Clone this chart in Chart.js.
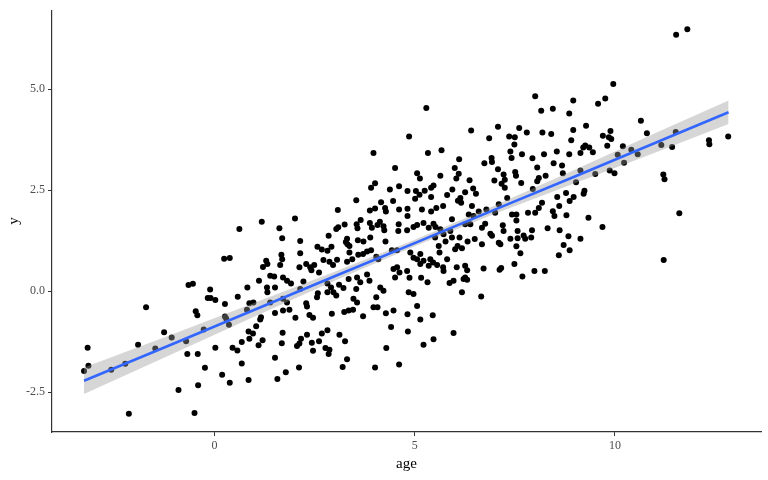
<!DOCTYPE html>
<html>
<head>
<meta charset="utf-8">
<title>age vs y</title>
<script src="https://cdn.jsdelivr.net/npm/chart.js@4.4.1/dist/chart.umd.min.js"></script>
<style>
  html, body { margin: 0; padding: 0; background: #fff; }
  #chart { display: block; }
</style>
</head>
<body>
<canvas id="chart" width="768" height="480"></canvas>
<script>
// Scatter values (x = age, y = y), same order in both arrays
const ageValues = [
  -3.17,-3.15,-3.26,-2.58,-2.23,-1.91,-1.71,-1.48,-1.26,-1.07,
  -0.90,-2.14,-0.71,-0.68,-0.65,-0.54,-0.47,-0.43,-0.50,-0.42,
  -0.41,-0.24,-0.27,0.02,-0.11,-0.17,-0.10,0.02,0.24,0.38,
  0.62,0.26,0.26,0.29,0.36,0.58,0.45,0.57,0.19,0.38,
  3.97,4.51,5.06,1.18,2.01,1.62,1.69,2.14,3.08,3.54,
  3.91,4.01,4.38,4.61,4.82,5.03,5.01,5.12,4.46,4.16,
  3.88,4.01,4.26,4.28,4.61,4.82,4.82,3.55,3.65,3.88,
  3.93,4.07,4.13,4.22,4.24,4.60,4.59,4.81,4.97,5.06,
  3.25,3.09,3.04,3.57,2.85,3.31,3.28,3.58,3.72,3.89,
  4.27,2.57,2.68,2.82,2.92,3.32,3.37,2.14,1.67,1.69,
  1.29,1.32,1.21,1.64,2.12,2.29,2.39,2.49,2.42,2.61,
  2.72,2.87,3.06,2.96,3.37,3.31,3.44,3.59,3.71,3.81,
  3.91,4.04,4.09,4.43,4.56,4.89,4.97,5.06,5.14,4.47,
  4.56,4.62,4.51,4.81,4.87,5.14,1.39,1.49,1.71,1.81,
  1.91,1.11,2.22,0.82,1.31,1.51,2.82,2.91,3.11,3.22,
  3.35,3.56,3.64,3.81,3.87,4.14,4.86,5.13,2.14,3.54,
  1.32,2.58,2.56,2.82,2.97,3.04,3.47,3.56,4.22,4.85,
  4.97,4.04,3.97,4.07,5.06,5.14,3.24,3.35,3.46,3.71,
  2.93,0.87,0.97,0.81,1.16,1.14,1.39,1.71,1.81,1.51,
  1.71,1.87,2.29,2.31,2.37,2.46,2.02,1.04,0.85,0.96,
  0.87,0.68,1.20,1.10,1.70,1.68,2.31,2.16,2.12,2.06,
  2.43,2.46,2.61,2.68,2.82,2.77,2.87,2.85,3.12,3.26,
  3.31,3.20,1.51,0.68,1.78,1.57,2.11,0.85,4.28,4.47,
  4.82,4.41,4.83,4.29,4.01,4.61,
  5.29,8.01,8.96,8.16,8.45,8.86,6.41,7.08,7.61,7.80,
  7.36,7.50,6.86,8.19,8.41,8.96,8.91,7.49,7.39,7.42,
  7.68,5.33,5.67,6.11,6.74,6.92,6.93,7.94,8.23,8.55,
  8.86,8.47,8.68,8.06,8.27,8.10,8.06,7.08,7.22,7.25,
  7.51,7.53,6.99,7.17,7.66,7.25,7.95,6.00,6.10,6.04,
  6.37,5.64,5.47,5.41,5.25,5.94,6.26,6.46,6.53,5.81,
  5.41,7.31,8.56,8.78,8.97,9.03,8.70,
  6.14,6.16,6.08,5.71,5.54,5.41,5.18,6.43,6.60,6.35,
  6.47,7.10,7.01,6.76,6.68,6.39,6.26,5.93,7.43,7.54,
  7.54,7.83,8.01,8.18,8.10,8.45,8.49,8.61,8.79,8.87,
  8.32,8.62,8.84,9.14,8.72,8.87,8.60,8.25,7.99,7.69,
  7.49,7.64,7.54,7.39,7.57,7.72,7.76,7.91,7.93,7.57,
  7.20,7.22,6.89,6.93,7.10,7.14,6.68,6.50,6.32,6.12,
  6.07,6.18,6.01,5.93,5.77,5.89,5.72,5.64,5.51,5.60,
  5.62,5.35,5.22,5.47,5.52,5.22,5.39,5.46,5.35,5.56,
  5.71,5.72,5.81,6.05,6.26,6.31,6.22,6.31,6.26,6.72,
  7.12,7.16,5.97,5.87,6.18,6.66,5.16,5.32,5.45,5.97,
  5.47,5.22,6.79,
  11.53,11.81,9.96,9.58,9.76,9.28,10.65,10.80,9.70,9.89,
  9.85,9.91,9.81,10.20,9.26,9.21,9.36,9.14,9.45,10.07,
  10.41,10.57,11.16,11.43,11.52,12.35,12.36,12.83,10.23,9.14,
  9.51,9.87,9.99,11.21,11.24,9.24,9.22,11.61,9.34,9.69,
  11.22
];

const yValues = [
  -1.40,-1.85,-1.98,-1.95,-1.80,-1.33,-0.40,-1.42,-1.02,-1.15,
  -2.45,-3.04,-1.24,-1.56,0.15,0.18,-0.50,-0.60,-3.02,-1.56,
  -2.33,-1.90,-0.95,-1.40,0.04,-0.17,-0.17,-0.22,0.80,0.82,
  1.54,-0.32,-0.63,-0.68,-0.83,-0.14,-1.40,-1.47,-2.07,-2.27,
  3.42,3.05,2.92,1.72,1.80,1.56,1.31,1.24,2.01,2.25,
  2.56,2.67,2.52,2.60,2.48,2.48,2.29,2.39,2.23,2.20,
  2.00,2.05,2.06,1.97,2.02,2.04,1.86,1.66,1.76,1.69,
  1.57,1.64,1.72,1.61,1.51,1.66,1.49,1.51,1.59,1.64,
  1.65,1.58,1.54,1.56,1.37,1.30,1.22,1.26,1.23,1.33,
  1.23,1.10,1.03,1.00,1.10,1.16,1.12,0.94,0.90,0.79,
  0.75,0.67,0.60,0.65,0.59,0.67,0.59,0.65,0.52,0.46,
  0.77,0.73,0.78,0.65,0.96,0.73,0.79,0.90,0.92,0.98,
  1.01,0.85,0.79,1.01,1.01,0.96,0.83,0.79,0.92,0.55,
  0.59,0.46,0.34,0.50,0.33,0.67,0.38,0.36,0.34,0.26,
  0.19,0.26,0.24,0.09,0.09,0.09,0.19,0.09,0.16,0.08,
  0.30,0.34,0.22,0.41,0.26,0.09,3.83,2.79,0.05,0.05,
  -0.03,-0.05,-0.15,-0.03,-0.03,-0.11,-0.19,-0.28,0.01,-0.03,
  -0.07,-0.15,-0.40,-0.40,-0.37,-0.70,-0.52,-0.48,-0.46,-0.62,
  -0.56,-0.30,-0.28,-0.46,-0.65,-0.70,-0.28,-0.19,-0.28,-0.54,
  -0.48,-0.46,-0.30,-0.38,-0.59,-0.66,-0.66,-0.87,-1.00,-1.05,
  -1.18,-1.26,-1.22,-1.34,-1.03,-1.29,-1.08,-1.18,-1.30,-1.36,
  -1.28,-1.48,-1.24,-1.05,-0.97,-1.41,-1.45,-1.56,-1.08,-1.24,
  -1.69,-1.88,-1.65,-1.79,-2.01,-2.18,-1.89,-2.20,-0.55,-0.48,
  -0.57,-0.89,-1.00,-1.41,-1.89,-1.82,
  4.54,4.83,4.72,4.47,4.52,4.40,3.98,4.07,4.04,3.93,
  3.83,3.81,3.79,3.93,3.89,3.99,3.74,3.63,3.46,3.30,
  3.39,3.42,3.49,3.27,3.17,3.30,3.20,3.29,3.39,3.46,
  3.39,3.17,3.11,3.06,2.86,2.80,2.72,3.02,2.89,2.76,
  2.95,2.86,2.74,2.66,2.68,2.56,2.53,3.05,2.91,2.79,
  2.75,2.86,2.62,2.56,2.49,2.52,2.45,2.54,2.41,2.38,
  2.33,2.31,2.33,2.43,2.33,2.70,2.92,
  2.31,2.19,2.24,2.11,2.06,1.97,2.02,2.11,1.97,1.90,
  1.86,2.15,1.94,1.67,1.57,1.66,1.66,1.78,1.90,1.90,
  1.75,1.94,1.94,2.19,2.06,1.98,1.86,2.11,1.88,2.23,
  1.56,1.51,1.36,1.30,1.14,1.01,0.89,0.50,0.50,0.36,
  0.67,0.94,1.11,1.30,1.31,1.38,1.30,1.33,1.51,1.49,
  1.63,1.49,1.42,1.37,1.20,1.16,1.16,1.29,1.23,1.33,
  1.12,1.06,1.04,1.33,1.23,1.49,1.41,1.53,1.33,1.12,
  0.96,1.57,1.69,1.67,1.59,0.75,0.79,0.71,0.63,0.65,
  0.59,0.50,0.79,0.59,0.63,0.52,0.30,0.28,0.34,0.56,
  0.53,0.57,0.26,0.20,-0.03,-0.13,0.33,0.22,-0.60,-1.04,
  -1.19,-1.33,2.02,
  6.35,6.49,5.13,4.64,4.77,4.10,4.22,3.91,3.85,3.97,
  3.81,3.77,3.60,3.59,3.61,3.56,3.56,3.42,3.44,3.38,
  3.50,3.39,3.62,3.57,3.94,3.74,3.64,3.83,3.18,2.99,
  2.90,2.99,2.92,2.89,2.77,2.49,2.41,1.93,1.82,1.59,
  0.77
];

// Linear fit and its confidence band
const fitAge   = [-3.26, -1, 1, 3, 5, 7, 9, 11, 12.84];
const fitY     = [-2.22, -1.29, -0.46, 0.37, 1.19, 2.02, 2.84, 3.67, 4.43];
const bandHigh = [-1.89, -1.05, -0.29, 0.48, 1.27, 2.12, 3.01, 3.91, 4.72];
const bandLow  = [-2.55, -1.53, -0.63, 0.26, 1.11, 1.92, 2.67, 3.43, 4.14];

// Axis ticks and limits
const xTicks = [0, 5, 10];
const yTicks = [-2.5, 0, 2.5, 5];
const xRange = [-4.06, 13.65];
const yRange = [-3.49, 6.96];

if (ageValues.length !== yValues.length) {
    console.warn('length mismatch', ageValues.length, yValues.length);
}

const toXY = (xs, ys) => xs.map((x, i) => ({ x: x, y: ys[i] }));

const FONT = "'Liberation Serif', 'DejaVu Serif', serif";
const AXIS = '#333333';

const ctx = document.getElementById('chart').getContext('2d');
new Chart(ctx, {
    type: 'scatter',
    data: {
        datasets: [
            {
                type: 'line',
                label: 'fit',
                data: toXY(fitAge, fitY),
                borderColor: '#3366FF',
                borderWidth: 2.6,
                pointRadius: 0,
                fill: false,
                order: 0
            },
            {
                type: 'line',
                label: 'upper',
                data: toXY(fitAge, bandHigh),
                borderWidth: 0,
                borderColor: 'rgba(0,0,0,0)',
                backgroundColor: 'rgba(153,153,153,0.4)',
                pointRadius: 0,
                fill: '+1',
                order: 1
            },
            {
                type: 'line',
                label: 'lower',
                data: toXY(fitAge, bandLow),
                borderWidth: 0,
                borderColor: 'rgba(0,0,0,0)',
                pointRadius: 0,
                fill: false,
                order: 2
            },
            {
                label: 'points',
                data: toXY(ageValues, yValues),
                backgroundColor: '#000000',
                borderWidth: 0,
                pointRadius: 3,
                order: 3
            }
        ]
    },
    options: {
        responsive: false,
        animation: false,
        devicePixelRatio: 1,
        layout: { padding: { top: 7, right: 7, left: 0, bottom: 0 } },
        plugins: {
            legend: { display: false },
            tooltip: { enabled: false }
        },
        scales: {
            x: {
                type: 'linear',
                min: xRange[0],
                max: xRange[1],
                afterBuildTicks: (scale) => { scale.ticks = xTicks.map(v => ({ value: v })); },
                afterFit: (scale) => { scale.height = 48; },
                ticks: {
                    font: { family: FONT, size: 12 },
                    color: '#4d4d4d',
                    padding: 3,
                    callback: (v) => String(v)
                },
                grid: { drawOnChartArea: false, drawTicks: true, tickLength: 4, color: AXIS, lineWidth: 1 },
                border: { display: true, color: AXIS, width: 1.2 },
                title: {
                    display: true,
                    text: 'age',
                    font: { family: FONT, size: 15 },
                    color: '#000000',
                    padding: { top: 0, bottom: 7 }
                }
            },
            y: {
                type: 'linear',
                min: yRange[0],
                max: yRange[1],
                afterBuildTicks: (scale) => { scale.ticks = yTicks.map(v => ({ value: v })); },
                afterFit: (scale) => { scale.width = 52; },
                ticks: {
                    font: { family: FONT, size: 12 },
                    color: '#4d4d4d',
                    padding: 3,
                    callback: (v) => v.toFixed(1)
                },
                grid: { drawOnChartArea: false, drawTicks: true, tickLength: 4, color: AXIS, lineWidth: 1 },
                border: { display: true, color: AXIS, width: 1.2 },
                title: {
                    display: true,
                    text: 'y',
                    font: { family: FONT, size: 15 },
                    color: '#000000',
                    padding: { top: 5, bottom: 0 }
                }
            }
        }
    }
});
</script>
</body>
</html>
